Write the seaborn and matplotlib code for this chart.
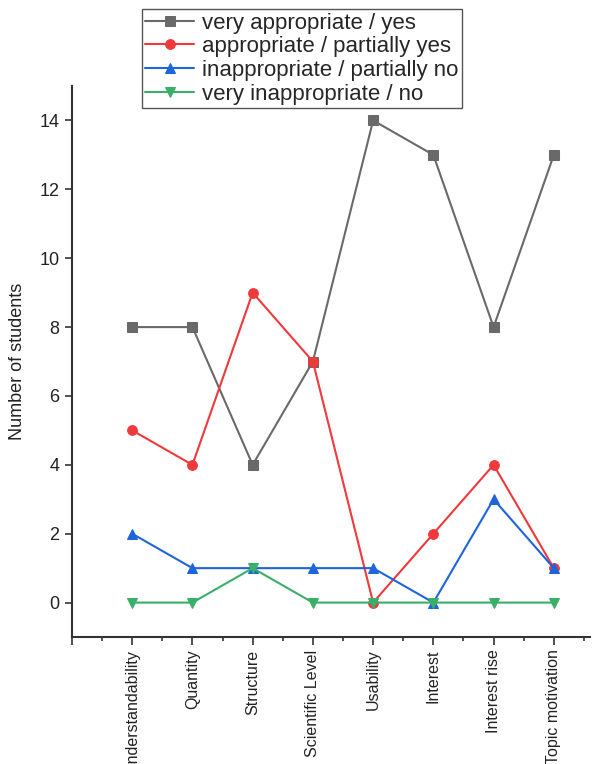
import numpy as np
import pandas as pd
import matplotlib
matplotlib.use('Agg')
import matplotlib.pyplot as plt
import seaborn as sns
from matplotlib.ticker import FixedLocator

categories = ['Understandability', 'Quantity', 'Structure', 'Scientific Level',
              'Usability', 'Interest', 'Interest rise', 'Topic motivation']
very_appropriate = [8, 8, 4, 7, 14, 13, 8, 13]
appropriate = [5, 4, 9, 7, 0, 2, 4, 1]
inappropriate = [2, 1, 1, 1, 1, 0, 3, 1]
very_inappropriate = [0, 0, 1, 0, 0, 0, 0, 0]

series_names = ['very appropriate / yes', 'appropriate / partially yes',
                'inappropriate / partially no', 'very inappropriate / no']
series_values = [very_appropriate, appropriate, inappropriate, very_inappropriate]
colors = ['#696969', '#f0393b', '#1e64dc', '#3aaf6a']
markers = ['s', 'o', '^', 'v']

sns.set_style('ticks')
plt.rcParams['font.family'] = ['Liberation Sans', 'DejaVu Sans']

fig = plt.figure(figsize=(6.12, 7.64), dpi=100)
ax = fig.add_axes([0.1176, 0.1662, 0.8464, 0.7212])

pos = np.arange(len(categories))
for name, vals, c, m in zip(series_names, series_values, colors, markers):
    df = pd.DataFrame({'x': pos, 'y': vals})
    sns.lineplot(data=df, x='x', y='y', ax=ax, color=c, marker=m,
                 markersize=7, markeredgecolor=c, linewidth=1.5, label=name)

ax.set_xlim(-1, 7.6)
ax.set_ylim(-1, 15)
ax.set_yticks(range(0, 15, 2))
ax.set_xticks(np.arange(-1, 8))
ax.set_xticklabels([''] + categories, rotation=90, fontsize=11.5)
ax.xaxis.set_minor_locator(FixedLocator(np.arange(-0.5, 7.6, 1)))
ax.tick_params(axis='y', labelsize=13, length=5, width=1.2, pad=4,
               colors='#333333', labelcolor='#222222')
ax.tick_params(axis='x', which='major', length=6, width=1.2, pad=3,
               colors='#333333', labelcolor='#222222')
ax.tick_params(axis='x', which='minor', length=3, width=1.2, colors='#333333')
ax.set_xlabel('')
ax.set_ylabel('Number of students', fontsize=13, color='#222222')
ax.yaxis.set_label_coords(-0.089, 0.5)

sns.despine(ax=ax)
for s in ['left', 'bottom']:
    ax.spines[s].set_linewidth(1.5)
    ax.spines[s].set_color('#333333')

ax.get_legend().remove()
handles, labels = ax.get_legend_handles_labels()
leg = fig.legend(handles, labels, loc='upper left', bbox_to_anchor=(0.232, 0.988),
                 fontsize=16, frameon=True, fancybox=False, handlelength=2.2,
                 handletextpad=0.35, labelspacing=0.12, borderpad=0.15, borderaxespad=0)
leg.get_frame().set_edgecolor('#555555')
leg.get_frame().set_linewidth(1.0)
leg.get_frame().set_alpha(1)

fig.savefig('out.png', dpi=100)
